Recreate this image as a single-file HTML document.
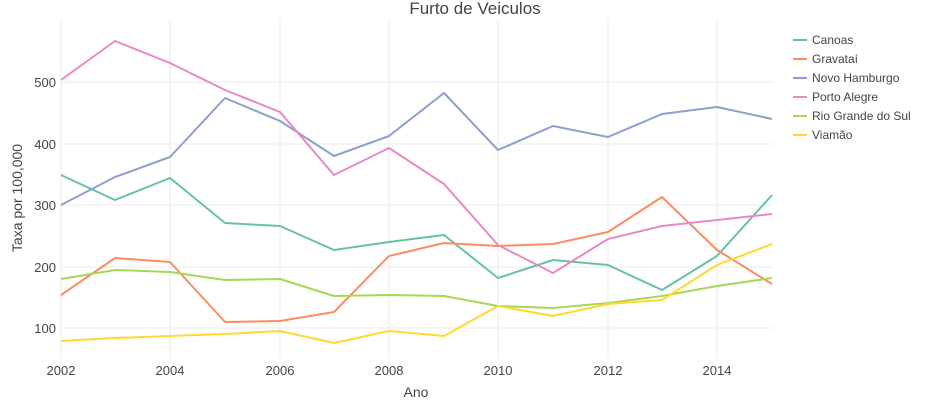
<!DOCTYPE html>
<html><head><meta charset="utf-8"><style>body{margin:0;background:#fff}svg{display:block}text{font-family:"Liberation Sans","DejaVu Sans",sans-serif;fill:#444}</style></head>
<body>
<svg width="950" height="400" viewBox="0 0 950 400">
<g stroke="#ebebeb" stroke-width="1">
<line x1="61" x2="772" y1="82" y2="82"/><line x1="61" x2="772" y1="144" y2="144"/><line x1="61" x2="772" y1="205" y2="205"/><line x1="61" x2="772" y1="267" y2="267"/><line x1="61" x2="772" y1="328" y2="328"/>
<line x1="61" x2="61" y1="20" y2="358"/><line x1="170" x2="170" y1="20" y2="358"/><line x1="280" x2="280" y1="20" y2="358"/><line x1="389" x2="389" y1="20" y2="358"/><line x1="498" x2="498" y1="20" y2="358"/><line x1="608" x2="608" y1="20" y2="358"/><line x1="717" x2="717" y1="20" y2="358"/>
</g>
<g fill="none" stroke-width="2" stroke-linejoin="round">
<polyline stroke="#66c2a5" points="61,175 115,200 170,178 225,223 280,226 334,250 389,242 444,235 498,278 553,260 608,265 662,290 717,256 772,195"/>
<polyline stroke="#fc8d62" points="61,295 115,258 170,262 225,322 280,321 334,312 389,256 444,243 498,246 553,244 608,232 662,197 717,250 772,284"/>
<polyline stroke="#8da0cb" points="61,205 115,177 170,157 225,98 280,121 334,156 389,136 444,93 498,150 553,126 608,137 662,114 717,107 772,119"/>
<polyline stroke="#e78ac3" points="61,80 115,41 170,63 225,90 280,112 334,175 389,148 444,184 498,245 553,273 608,239 662,226 717,220 772,214"/>
<polyline stroke="#a6d854" points="61,279 115,270 170,272 225,280 280,279 334,296 389,295 444,296 498,306 553,308 608,303 662,296 717,286 772,278"/>
<polyline stroke="#ffd92f" points="61,341 115,338 170,336 225,334 280,331 334,343 389,331 444,336 498,306 553,316 608,304 662,300 717,265 772,244"/>
</g>
<g font-size="13" text-anchor="end">
<text x="56" y="87">500</text><text x="56" y="149">400</text><text x="56" y="210">300</text><text x="56" y="272">200</text><text x="56" y="333">100</text>
</g>
<g font-size="13" text-anchor="middle">
<text x="61" y="375">2002</text><text x="170" y="375">2004</text><text x="280" y="375">2006</text><text x="389" y="375">2008</text><text x="498" y="375">2010</text><text x="608" y="375">2012</text><text x="717" y="375">2014</text>
</g>
<text x="416" y="397" font-size="14" text-anchor="middle">Ano</text>
<text x="22" y="198" font-size="14" text-anchor="middle" transform="rotate(-90 22 198)">Taxa por 100,000</text>
<text x="475" y="14" font-size="17" text-anchor="middle">Furto de Veiculos</text>
<g stroke-width="2">
<line x1="793" x2="807" y1="40" y2="40" stroke="#66c2a5"/><line x1="793" x2="807" y1="59" y2="59" stroke="#fc8d62"/><line x1="793" x2="807" y1="78" y2="78" stroke="#8da0cb"/><line x1="793" x2="807" y1="97" y2="97" stroke="#e78ac3"/><line x1="793" x2="807" y1="116" y2="116" stroke="#a6d854"/><line x1="793" x2="807" y1="135" y2="135" stroke="#ffd92f"/>
</g>
<g font-size="12">
<text x="812" y="44">Canoas</text><text x="812" y="63">Gravataí</text><text x="812" y="82">Novo Hamburgo</text><text x="812" y="101">Porto Alegre</text><text x="812" y="120">Rio Grande do Sul</text><text x="812" y="139">Viamão</text>
</g>
</svg>
</body></html>
